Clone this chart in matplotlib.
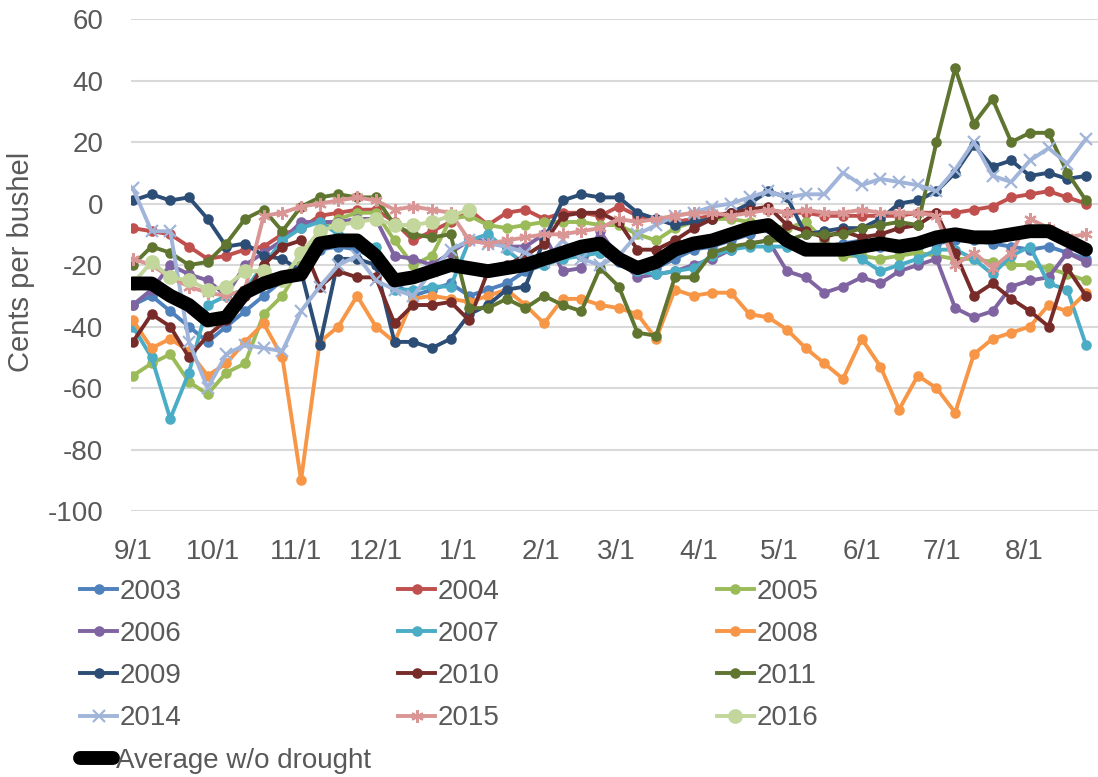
import matplotlib
matplotlib.use("Agg")
import matplotlib.pyplot as plt

# jours depuis le 1er septembre (une valeur par semaine)
days = list(range(0, 358, 7))

tick_days = [0, 30, 61, 91, 122, 153, 181, 212, 242, 273, 303, 334]
tick_labels = ["9/1", "10/1", "11/1", "12/1", "1/1", "2/1", "3/1", "4/1", "5/1", "6/1", "7/1", "8/1"]

y2003 = [-33, -30, -35, -40, -45, -40, -35, -30, -25, -20, -15, -14, -15, -18, -26, -30, -28, -26, -30, -28,
         -26, -22, -20, -17, -16, -16, -19, -20, -21, -18, -15, -14, -12, -10, -8, -12, -14, -14, -13, -12,
         -14, -15, -14, -13, -12, -12, -13, -14, -15, -14, -16, -18]
y2004 = [-8, -9, -10, -14, -18, -17, -15, -14, -10, -8, -4, -3, -2, -2, -6, -12, -9, -6, -2, -7,
         -3, -2, -5, -3, -3, -4, -1, -4, -5, -6, -5, -4, -3, -2, -2, -3, -3, -4, -4, -4,
         -4, -4, -3, -3, -3, -2, -1, 2, 3, 4, 2, 0]
y2005 = [-56, -52, -49, -58, -62, -55, -52, -36, -30, -20, -8, -5, -3, -3, -12, -20, -17, -5, -4, -7,
         -8, -7, -6, -6, -6, -7, -7, -10, -12, -8, -6, -5, -5, -6, -7, -8, -6, -12, -17, -17,
         -18, -17, -16, -17, -18, -18, -19, -20, -20, -21, -23, -25]
y2006 = [-33, -28, -20, -23, -25, -30, -20, -16, -12, -6, -6, -6, -5, -5, -17, -18, -20, -16, -12, -12,
         -14, -14, -10, -22, -21, -9, -18, -24, -23, -22, -20, -18, -15, -13, -12, -22, -24, -29, -27, -24,
         -26, -22, -20, -18, -34, -37, -35, -27, -25, -24, -16, -19]
y2007 = [-40, -50, -70, -55, -33, -30, -28, -20, -12, -8, -6, -10, -12, -14, -28, -28, -27, -27, -12, -10,
         -15, -20, -20, -18, -17, -16, -18, -22, -23, -22, -21, -17, -15, -14, -14, -14, -15, -14, -15, -18,
         -22, -20, -18, -15, -15, -18, -23, -17, -14, -26, -28, -46]
y2008 = [-38, -47, -44, -48, -56, -52, -45, -39, -50, -90, -45, -40, -30, -40, -45, -31, -30, -31, -32, -30,
         -28, -33, -39, -31, -31, -33, -34, -36, -44, -28, -30, -29, -29, -36, -37, -41, -47, -52, -57, -44,
         -53, -67, -56, -60, -68, -49, -44, -42, -40, -33, -35, -29]
y2009 = [1, 3, 1, 2, -5, -14, -13, -17, -18, -22, -46, -18, -18, -20, -45, -45, -47, -44, -36, -33,
         -28, -27, -12, 1, 3, 2, 2, -3, -5, -7, -6, -5, -3, 0, 4, 2, -10, -9, -8, -8,
         -5, 0, 1, 4, 10, 19, 12, 14, 9, 10, 8, 9]
y2010 = [-45, -36, -40, -50, -43, -38, -30, -20, -14, -12, -27, -22, -24, -24, -39, -33, -33, -32, -38, -22,
         -20, -17, -13, -4, -3, -3, -6, -15, -15, -12, -8, -5, -3, -2, -1, -7, -9, -11, -9, -11,
         -10, -8, -7, -3, -16, -30, -26, -31, -35, -40, -21, -30]
y2011 = [-20, -14, -16, -20, -19, -13, -5, -2, -9, -1, 2, 3, 2, 2, -7, -10, -11, -10, -34, -34,
         -31, -34, -30, -33, -35, -21, -27, -42, -43, -24, -24, -16, -14, -13, -12, -12, -10, -10, -10, -8,
         -7, -6, -7, 20, 44, 26, 34, 20, 23, 23, 10, 1]
y2014 = [5, -9, -9, -45, -60, -49, -46, -47, -48, -35, -27, -20, -17, -25, -28, -30, -22, -15, -12, -13,
         -14, -16, -19, -12, -18, -20, -17, -10, -7, -4, -3, -1, 0, 2, 4, 2, 3, 3, 10, 6,
         8, 7, 6, 4, 11, 20, 9, 7, 14, 18, 13, 21]
y2015 = [-18, -20, -24, -27, -29, -30, -28, -4, -3, -1, 0, 1, 2, 1, -2, -1, -2, -3, -12, -13,
         -12, -11, -10, -10, -9, -8, -5, -6, -5, -4, -3, -3, -4, -3, -2, -3, -2, -3, -3, -2,
         -3, -3, -3, -4, -20, -16, -21, -16, -5, -8, -11, -10]
y2016 = [-26, -19, -24, -25, -28, -27, -22, -22, -25, -16, -9, -7, -6, -5, -7, -7, -6, -4, -2]
average = [-26, -26, -30, -33, -38, -37, -29, -26, -24, -23, -13, -12, -12, -17, -25, -24, -22, -20, -21, -22,
           -21, -20, -18, -16, -14, -13, -18, -21, -19, -15, -13, -12, -10, -8, -7, -12, -15, -15, -15, -14,
           -13, -14, -13, -11, -10, -11, -11, -10, -9, -9, -12, -15]

plt.rcParams["font.family"] = ["Liberation Sans", "DejaVu Sans"]
plt.rcParams["axes.unicode_minus"] = False
grey = "#595959"

fig = plt.figure(figsize=(10.98, 7.77), dpi=100)
ax = fig.add_axes([0.1193, 0.3423, 0.8807, 0.6332])

series = [
    ("2003", y2003, "#4F81BD", "o", 6),
    ("2004", y2004, "#C0504D", "o", 6),
    ("2005", y2005, "#9BBB59", "o", 6),
    ("2006", y2006, "#8064A2", "o", 6),
    ("2007", y2007, "#4BACC6", "o", 6),
    ("2008", y2008, "#F79646", "o", 6),
    ("2009", y2009, "#2C4D75", "o", 6),
    ("2010", y2010, "#772C2A", "o", 6),
    ("2011", y2011, "#5F7530", "o", 6),
    ("2014", y2014, "#A0B5D9", "x", 8),
    ("2015", y2015, "#D99694", (6, 2, 0), 9),
    ("2016", y2016, "#C3D69B", "o", 9),
]

handles = {}
for i, (name, vals, col, mk, ms) in enumerate(series):
    h, = ax.plot(days[:len(vals)], vals, color=col, lw=2.8, marker=mk, ms=ms,
                 mew=1.6, mec=col, mfc=col, label=name, zorder=2 + i * 0.1,
                 solid_joinstyle="round")
    handles[name] = h

h_avg, = ax.plot(days, average, color="black", lw=10, label="Average w/o drought",
                 zorder=4, solid_capstyle="round", solid_joinstyle="round")

ax.set_xlim(-0.7, 361.5)
ax.set_ylim(-100, 60)
ax.set_yticks(range(-100, 61, 20))
ax.set_xticks(tick_days)
ax.set_xticklabels(tick_labels)
ax.tick_params(axis="both", length=0, labelsize=20, colors=grey)
ax.tick_params(axis="y", pad=20)
ax.tick_params(axis="x", pad=20)
ax.grid(axis="y", color="#D9D9D9", lw=1.5, zorder=0)
for s in ax.spines.values():
    s.set_visible(False)
ax.set_axisbelow(True)
ax.set_ylabel("Cents per bushel", fontsize=21, color=grey)
ax.yaxis.set_label_coords(-0.0993, 0.506)

order = ["2003", "2006", "2009", "2014", "2004", "2007", "2010", "2015", "2005", "2008", "2011", "2016"]
fig.legend([handles[n] for n in order], order, ncol=3, frameon=False,
           loc="upper left", bbox_to_anchor=(0.0729, 0.2549), borderpad=0,
           fontsize=20, labelcolor=grey, handlelength=1.33, handletextpad=0.1,
           labelspacing=0.58, columnspacing=7.8, borderaxespad=0)
fig.legend([h_avg], ["Average w/o drought"], frameon=False, loc="upper left",
           bbox_to_anchor=(0.0729, 0.0373), borderpad=0, fontsize=20, labelcolor=grey,
           handlelength=1.2, handletextpad=0.1, borderaxespad=0)

fig.savefig("out.png", dpi=100)
